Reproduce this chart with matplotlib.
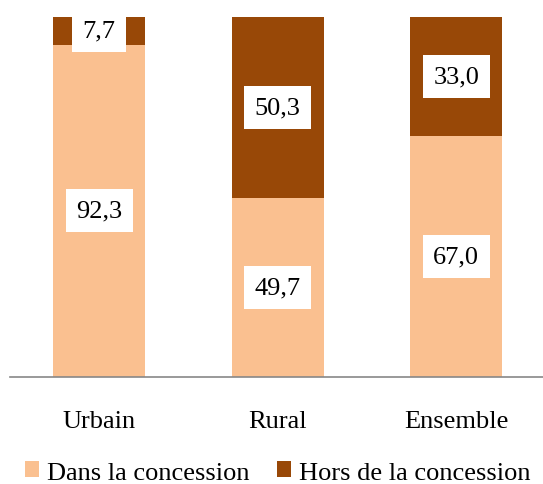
import matplotlib.pyplot as plt
import numpy as np

categories = ['Urbain', 'Rural', 'Ensemble']
dans = [92.3, 49.7, 67.0]
hors = [7.7, 50.3, 33.0]
series_names = ['Dans la concession', 'Hors de la concession']

light = '#FAC090'
dark = '#984807'

plt.rcParams['font.family'] = ['Liberation Serif', 'DejaVu Serif']
plt.rcParams['font.size'] = 19

fig = plt.figure(figsize=(5.43, 4.85), dpi=100)
ax = fig.add_axes([10 / 543, 107 / 485, 535.5 / 543, 360 / 485])

x = np.arange(len(categories))
w = 0.515
ax.bar(x, dans, w, color=light, label=series_names[0])
ax.bar(x, hors, w, bottom=dans, color=dark, label=series_names[1])

# value labels in white boxes, comma as decimal separator
for i in range(len(categories)):
    for val, base in [(dans[i], 0), (hors[i], dans[i])]:
        ax.text(x[i], base + val / 2, f'{val:.1f}'.replace('.', ','),
                ha='center', va='center', fontsize=19,
                bbox=dict(boxstyle='square,pad=0.4', fc='white', ec='none'))

ax.set_xlim(-0.5, 2.5)
ax.set_ylim(0, 100)
ax.set_xticks(x)
ax.set_xticklabels(categories)
ax.tick_params(axis='x', length=0, pad=24)
ax.set_yticks([])
for s in ['top', 'left', 'right']:
    ax.spines[s].set_visible(False)
ax.spines['bottom'].set_color('#878787')
ax.spines['bottom'].set_linewidth(1.2)

fig.legend(loc='center', bbox_to_anchor=(0.511, 0.024), ncol=2, frameon=False,
           handlelength=0.55, handleheight=0.55, handletextpad=0.28,
           columnspacing=1.05, borderpad=0, borderaxespad=0)

fig.savefig('out.png', dpi=100)
